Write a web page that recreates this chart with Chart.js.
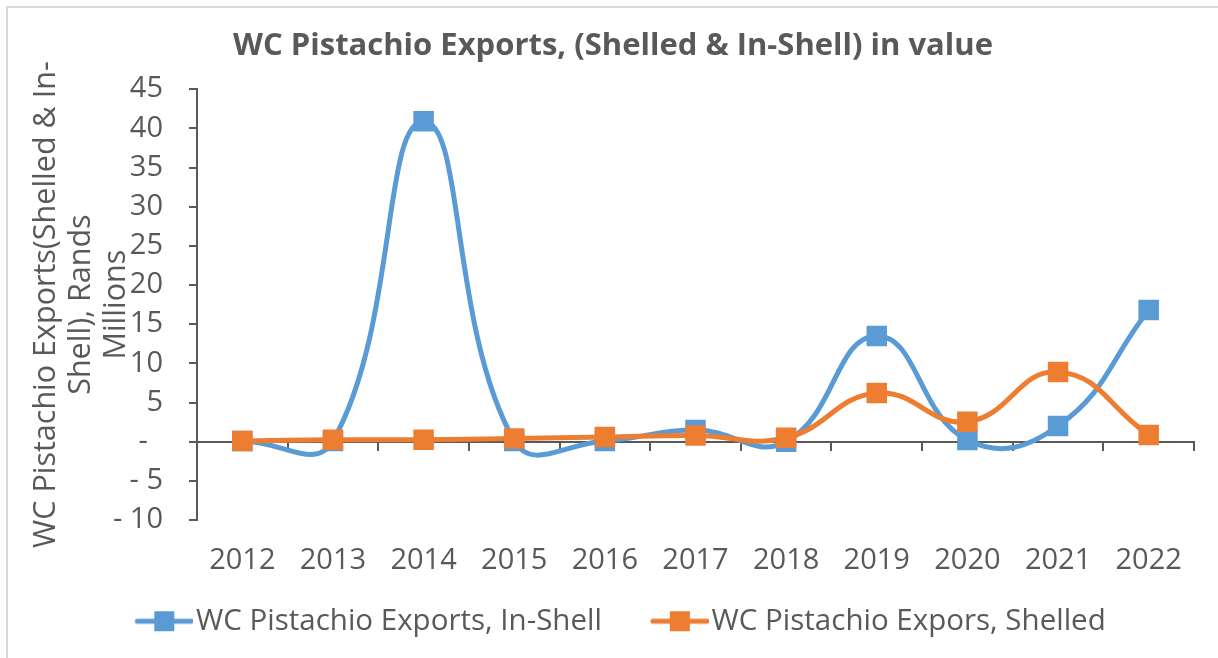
<!DOCTYPE html>
<html>
<head>
<meta charset="utf-8">
<script src="https://cdn.jsdelivr.net/npm/chart.js@4/dist/chart.umd.min.js"></script>
<style>
  html, body { margin: 0; padding: 0; background: #fff; overflow: hidden; }
  #wrap { position: relative; width: 1218px; height: 658px; }
  #frame { position: absolute; left: 6px; top: 6px; width: 1300px; height: 800px; border: 2px solid #d9d9d9; pointer-events: none; }
  canvas { display: block; }
</style>
</head>
<body>
<div id="wrap">
  <canvas id="c" width="1218" height="658"></canvas>
  <div id="frame"></div>
</div>
<script>
// ---- data ----
const years = ['2012','2013','2014','2015','2016','2017','2018','2019','2020','2021','2022'];
const inShell = [0.1, 0.1, 40.9, 0.1, 0.1, 1.5, 0.0, 13.5, 0.2, 2.0, 16.8];
const shelled = [0.1, 0.25, 0.25, 0.4, 0.6, 0.8, 0.5, 6.2, 2.55, 8.9, 0.85];
const yTickValues = [-10, -5, 0, 5, 10, 15, 20, 25, 30, 35, 40, 45];
const yTickLabels = ['- 10', '- 5', '-  ', '5', '10', '15', '20', '25', '30', '35', '40', '45'];
const titleText = 'WC Pistachio Exports, (Shelled & In-Shell) in value';
const yTitleLines = ['WC Pistachio Exports(Shelled & In-', 'Shell), Rands', 'Millions'];
const seriesNames = ['WC Pistachio Exports, In-Shell', 'WC Pistachio Expors, Shelled'];

const BLUE = '#5B9BD5';
const ORANGE = '#ED7D31';
const GREY = '#595959';
const FONT = "'Open Sans', 'DejaVu Sans', sans-serif";

// legend symbol: line with a square marker, drawn into a small canvas
function legendIcon(color) {
  const c = document.createElement('canvas');
  c.width = 85; c.height = 24;
  const g = c.getContext('2d');
  g.strokeStyle = color; g.lineWidth = 5; g.lineCap = 'round';
  g.beginPath(); g.moveTo(29, 12); g.lineTo(83, 12); g.stroke();
  g.fillStyle = color;
  g.fillRect(46, 2, 20, 20);
  return c;
}
const icons = [legendIcon(BLUE), legendIcon(ORANGE)];

new Chart(document.getElementById('c'), {
  type: 'line',
  data: {
    labels: years,
    datasets: [
      {
        label: seriesNames[0], data: inShell, borderColor: BLUE, backgroundColor: BLUE,
        borderWidth: 5, pointStyle: 'rect', pointRadius: 14.5, pointHoverRadius: 14.5,
        pointBorderWidth: 0, tension: 0.45, order: 2
      },
      {
        label: seriesNames[1], data: shelled, borderColor: ORANGE, backgroundColor: ORANGE,
        borderWidth: 5, pointStyle: 'rect', pointRadius: 14.5, pointHoverRadius: 14.5,
        pointBorderWidth: 0, tension: 0.45, order: 1
      }
    ]
  },
  options: {
    responsive: false,
    animation: false,
    layout: { padding: { left: 32, right: 24, top: 0, bottom: 12 } },
    plugins: {
      tooltip: { enabled: false },
      title: {
        display: true, text: titleText, color: GREY,
        font: { family: FONT, size: 31, weight: 'bold' },
        padding: { top: 28, bottom: 24 }
      },
      legend: {
        position: 'bottom',
        labels: {
          color: GREY, font: { family: FONT, size: 29.5 },
          usePointStyle: true, pointStyleWidth: 61, padding: 34,
          sort: (a, b) => a.datasetIndex - b.datasetIndex,
          generateLabels: (chart) => {
            const items = Chart.defaults.plugins.legend.labels.generateLabels(chart);
            items.forEach(it => { it.pointStyle = icons[it.datasetIndex]; it.lineWidth = 0; });
            return items;
          }
        }
      }
    },
    scales: {
      x: {
        type: 'category', offset: true,
        grid: { display: false },
        border: { display: false },
        ticks: { color: GREY, font: { family: FONT, size: 29 }, padding: 15, maxRotation: 0 },
        afterFit: (s) => { s.height = 646 - s.chart.legend.height - 520; }
      },
      x2: {
        type: 'category', labels: years, offset: true,
        position: { y: 0 },
        grid: { offset: true, drawOnChartArea: false, drawTicks: true, tickLength: 8, color: GREY, lineWidth: 2 },
        border: { display: true, color: GREY, width: 2 },
        ticks: { display: false }
      },
      y: {
        min: -10, max: 45,
        afterBuildTicks: (s) => { s.ticks = yTickValues.map(v => ({ value: v })); },
        afterFit: (s) => { s.width = 165; },
        grid: { drawOnChartArea: false, drawTicks: true, tickLength: 8, color: GREY, lineWidth: 2 },
        border: { display: true, color: GREY, width: 2 },
        ticks: {
          color: GREY, font: { family: FONT, size: 29 }, padding: 26,
          callback: (v) => yTickLabels[yTickValues.indexOf(v)]
        },
        title: {
          display: true, text: yTitleLines, color: GREY,
          font: { family: FONT, size: 30.5, lineHeight: 1.15 }, padding: { top: -3, bottom: 0 }
        }
      }
    }
  }
});
</script>
</body>
</html>
